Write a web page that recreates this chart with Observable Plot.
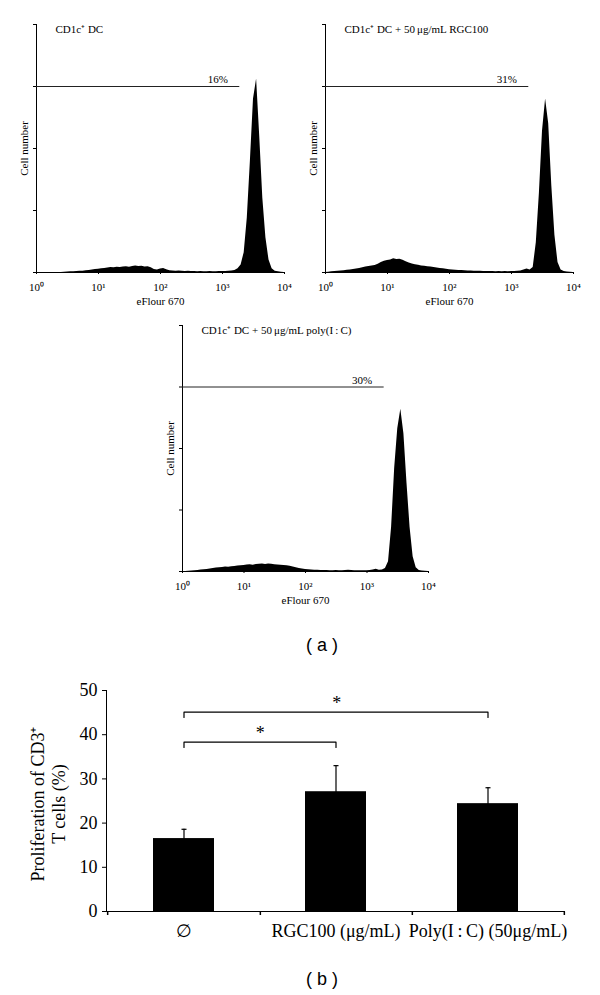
<!DOCTYPE html>
<html><head><meta charset="utf-8">
<script src="https://cdn.jsdelivr.net/npm/d3@7"></script>
<script src="https://cdn.jsdelivr.net/npm/@observablehq/plot@0.6"></script>
<style>
body{margin:0;background:#fff;}
#wrap{position:relative;width:600px;height:995px;overflow:hidden;background:#fff;}
#wrap > svg, #wrap > figure{position:absolute;margin:0;}
.cap{position:absolute;font-family:"Liberation Sans",Arial,sans-serif;font-size:18px;transform:translate(-50%,-50%);white-space:pre;color:#000;}
</style></head><body><div id="wrap"></div>
<script>
// ---------- Data: flow-cytometry histograms (log10 bins 0..4, step 0.05) ----------
const binLog = d3.range(0, 4.0001, 0.05);
const countsDC = [
  0,0,0,0,0,0,0,0,0,0.1,
  0.2,0.3,0.3,0.4,0.5,0.5,0.7,0.8,1.0,1.2,
  1.3,1.5,1.6,1.8,2.0,1.9,2.1,2.0,2.2,2.3,
  2.1,2.4,2.6,2.4,2.5,2.2,2.3,1.9,1.2,1.0,
  1.4,1.6,1.1,0.7,0.6,0.5,0.6,0.5,0.4,0.5,
  0.4,0.4,0.3,0.4,0.3,0.3,0.4,0.3,0.3,0.4,
  0.4,0.4,0.5,0.6,0.8,1.5,3,8,22,45,
  70,78,55,30,14,5,1.5,0.5,0.3,0.1,
  0
];
const countsRGC = [
  0,0.1,0.3,0.4,0.5,0.6,0.7,0.9,1.0,1.2,
  1.4,1.6,1.9,2.2,2.4,2.6,2.8,3.3,4.0,4.5,
  4.8,5.0,5.5,5.2,5.3,4.9,4.3,3.8,3.4,3.1,
  2.9,2.6,2.5,2.3,2.2,2.0,1.8,1.6,1.5,1.3,
  1.1,1.0,0.9,0.8,0.8,0.7,0.6,0.6,0.5,0.5,
  0.5,0.4,0.4,0.4,0.4,0.3,0.4,0.3,0.4,0.3,
  0.4,0.4,0.5,0.6,1.0,1.4,1.0,2,12,32,
  57,70,60,35,15,4,1,0.4,0.2,0.1,
  0
];
const countsPIC = [
  0,0,0.1,0.2,0.3,0.4,0.6,0.7,0.8,1.0,
  1.2,1.4,1.5,1.6,1.8,1.7,1.9,2.0,2.2,2.3,
  2.4,2.6,2.7,2.5,2.8,2.9,3.0,2.8,3.0,2.9,
  2.7,2.6,2.5,2.4,2.3,2.1,1.8,1.5,1.2,1.0,
  0.8,0.7,0.6,0.5,0.5,0.4,0.4,0.4,0.3,0.3,
  0.4,0.3,0.3,0.4,0.5,0.4,0.3,0.3,0.3,0.3,
  0.3,0.4,0.6,0.9,0.5,0.6,1.2,4,18,42,
  58,66,56,36,18,6,1.5,0.4,0.2,0.1,
  0
];
const panelTitles = ["CD1c\u207A DC", "CD1c\u207A DC + 50\u2009μg/mL RGC100", "CD1c\u207A DC + 50\u2009μg/mL poly(I\u2009:\u2009C)"];
const panelPercents = ["16%", "31%", "30%"];
const gateLevel = 75;
const gateEnd = 1900;
const histXTicks = [1, 10, 100, 1000, 10000];
const histYTicks = [0, 25, 50, 75, 100];
const histXLabel = "eFlour 670";
const histYLabel = "Cell number";

// ---------- Data: proliferation bar chart ----------
const catNames = ["∅", "RGC100 (μg/mL)", "Poly(I\u2009:\u2009C) (50μg/mL)"];
const barMeans = [16.5, 27.1, 24.4];
const barErrLow = [13.8, 20.8, 20.4];
const barErrHigh = [18.6, 33.0, 28.0];
const barYTicks = [0, 10, 20, 30, 40, 50];
const bracketFrom = [0, 0];
const bracketTo = [1, 2];
const bracketLevel = [38.3, 45.1];
const bracketLabel = ["*", "*"];
const barYLabel = "Proliferation of CD3\u207A\nT cells (%)";

// ---------- Rendering ----------
const serif = "'Liberation Serif','Times New Roman',Times,serif";
const sup = ["\u2070", "\u00B9", "\u00B2", "\u00B3", "\u2074"];
const wrap = document.getElementById("wrap");

function place(el, left, top) {
  el.style.left = left + "px";
  el.style.top = top + "px";
  wrap.appendChild(el);
}

function histPanel(counts, title, pct, box) {
  const data = binLog.map((l, i) => ({v: Math.pow(10, l), n: counts[i]}));
  return Plot.plot({
    width: 300, height: 320,
    marginLeft: box.ml, marginRight: box.mr, marginTop: box.mt, marginBottom: box.mb,
    style: {fontFamily: serif, fontSize: "11px", background: "transparent", color: "black"},
    x: {type: "log", domain: [1, 10000], ticks: histXTicks,
        tickFormat: d => "10" + sup[Math.round(Math.log10(d))],
        tickSize: 2, tickPadding: 9, label: null, line: true},
    y: {domain: [0, 100], ticks: histYTicks, tickFormat: () => "", tickSize: 3, label: null, line: true},
    marks: [
      Plot.areaY(data, {x: "v", y: "n", fill: "black", curve: "linear"}),
      Plot.ruleY([{lvl: gateLevel, a: 1, b: gateEnd}], {y: "lvl", x1: "a", x2: "b", stroke: "#222", strokeWidth: 1}),
      Plot.text([pct], {x: gateEnd, y: gateLevel, text: d => d, dx: -22, dy: -7, fontSize: 11, textAnchor: "middle", fontFamily: serif}),
      Plot.text([title], {frameAnchor: "top-left", text: d => d, dx: 19, dy: 1, textAnchor: "start", lineAnchor: "top", fontSize: 11, fontFamily: serif}),
      Plot.text([histXLabel], {frameAnchor: "bottom", text: d => d, dy: 32, fontSize: 11, fontFamily: serif}),
      Plot.text([histYLabel], {frameAnchor: "left", text: d => d, rotate: -90, dx: -12, textAnchor: "middle", lineAnchor: "middle", fontSize: 11, fontFamily: serif})
    ]
  });
}

place(histPanel(countsDC, panelTitles[0], panelPercents[0], {ml: 36, mr: 16, mt: 24, mb: 48}), 0, 0);
place(histPanel(countsRGC, panelTitles[1], panelPercents[1], {ml: 25, mr: 27, mt: 24, mb: 48}), 300, 0);
place(histPanel(countsPIC, panelTitles[2], panelPercents[2], {ml: 32, mr: 22, mt: 25, mb: 49}), 150, 300);

// Bar chart
const bars = catNames.map((c, i) => ({cat: c, mean: barMeans[i], lo: barErrLow[i], hi: barErrHigh[i]}));
const bML = 106, bMR = 36, bW = 600;
const step = (bW - bML - bMR) / (catNames.length - 0.6 + 2 * 0.3);
const bracketPts = [];
const brackets = bracketFrom.map((f, k) => ({id: k, from: catNames[f], to: catNames[bracketTo[k]], span: bracketTo[k] - f, level: bracketLevel[k], label: bracketLabel[k]}));
brackets.forEach(b => {
  bracketPts.push({id: b.id, x: b.from, y: b.level - 1.2});
  bracketPts.push({id: b.id, x: b.from, y: b.level});
  bracketPts.push({id: b.id, x: b.to, y: b.level});
  bracketPts.push({id: b.id, x: b.to, y: b.level - 1.2});
});
const capSymbol = {draw(ctx) { ctx.moveTo(-2.5, 0); ctx.lineTo(2.5, 0); }};
const vTick = {draw(ctx) { ctx.moveTo(0, 0); ctx.lineTo(0, 3.5); }};

const barPlot = Plot.plot({
  width: bW, height: 300,
  marginLeft: bML, marginRight: bMR, marginTop: 30, marginBottom: 49,
  style: {fontFamily: serif, fontSize: "18px", background: "transparent", color: "black"},
  x: {domain: catNames, paddingInner: 0.6, paddingOuter: 0.3, tickSize: 0, tickPadding: 13, label: null, line: true},
  y: {domain: [0, 50], ticks: barYTicks, tickSize: 4, tickPadding: 5, label: null, line: true},
  marks: [
    Plot.barY(bars, {x: "cat", y: "mean", fill: "black"}),
    Plot.ruleX(bars, {x: "cat", y1: "lo", y2: "hi", stroke: "black", strokeWidth: 1.2}),
    Plot.dot(bars, {x: "cat", y: "hi", symbol: capSymbol, stroke: "black", strokeWidth: 1.2, fill: "none"}),
    Plot.dot(catNames, {x: d => d, y: 0, dx: step / 2, symbol: vTick, stroke: "black", fill: "none"}),
    Plot.dot([catNames[0]], {x: d => d, y: 0, dx: -step / 2, symbol: vTick, stroke: "black", fill: "none"}),
    Plot.line(bracketPts, {x: "x", y: "y", z: "id", stroke: "black", strokeWidth: 1.2}),
    ...brackets.map(b => Plot.text([b], {x: "from", y: "level", text: "label", dx: b.span * step / 2, dy: -9, fontSize: 18, fontFamily: serif})),
    Plot.text([barYLabel], {frameAnchor: "left", text: d => d, rotate: -90, dx: -59, dy: 3, textAnchor: "middle", lineAnchor: "middle", lineHeight: 1.17, fontSize: 18, fontFamily: serif})
  ]
});
place(barPlot, 0, 660);

// Panel captions
[["( a )", 322, 645], ["( b )", 322, 979]].forEach(([t, x, y]) => {
  const d = document.createElement("div");
  d.className = "cap";
  d.textContent = t;
  d.style.left = x + "px";
  d.style.top = y + "px";
  wrap.appendChild(d);
});
</script></body></html>
